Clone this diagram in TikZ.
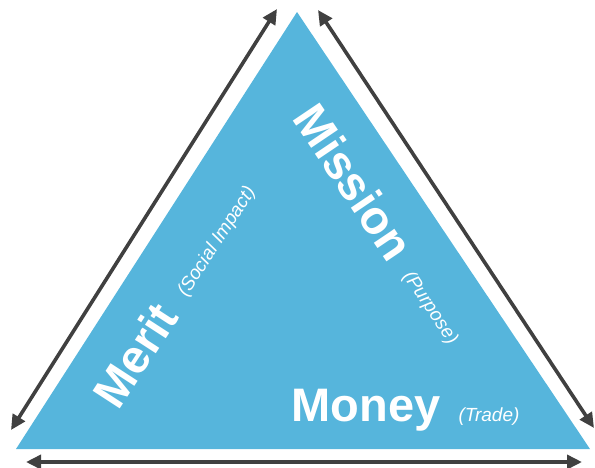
\documentclass[tikz,border=0pt]{standalone}
\usepackage{fontspec}
\setmainfont{Liberation Sans}
\usetikzlibrary{arrows.meta}
\definecolor{tri}{HTML}{56B5DC}
\definecolor{arr}{HTML}{404040}
\tikzset{
  dbl/.style={draw=arr, line width=3.6pt, {Triangle[length=15pt,width=14pt]}-{Triangle[length=15pt,width=14pt]}},
  big/.style={text=white, font=\bfseries\fontsize{47}{50}\selectfont, inner sep=0pt},
  small/.style={text=white, font=\itshape\fontsize{19}{22}\selectfont, inner sep=0pt}
}
\begin{document}
\begin{tikzpicture}[x=1pt,y=-1pt]
\useasboundingbox (0,0) rectangle (595,467);
\fill[tri] (297,12) -- (590,449) -- (16,449) -- cycle;
\coordinate (la) at (11,430);
\coordinate (lb) at (277,9);
\coordinate (ra) at (318,10);
\coordinate (rb) at (594,428);
\coordinate (ba) at (26,462);
\coordinate (bb) at (582,462);
\draw[dbl] (la) -- (lb);
\draw[dbl] (ra) -- (rb);
\draw[dbl] (ba) -- (bb);
\node[big, rotate=57] (merit) at (135,355) {Merit};
\node[small, rotate=57] (social) at (217,242) {(Social Impact)};
\node[big, rotate=-56] (mission) at (354,182) {Mission};
\node[small, rotate=-56] (purpose) at (430,308) {(Purpose)};
\node[big] (money) at (366,410) {Money};
\node[small] (trade) at (489,417) {(Trade)};
\end{tikzpicture}
\end{document}
